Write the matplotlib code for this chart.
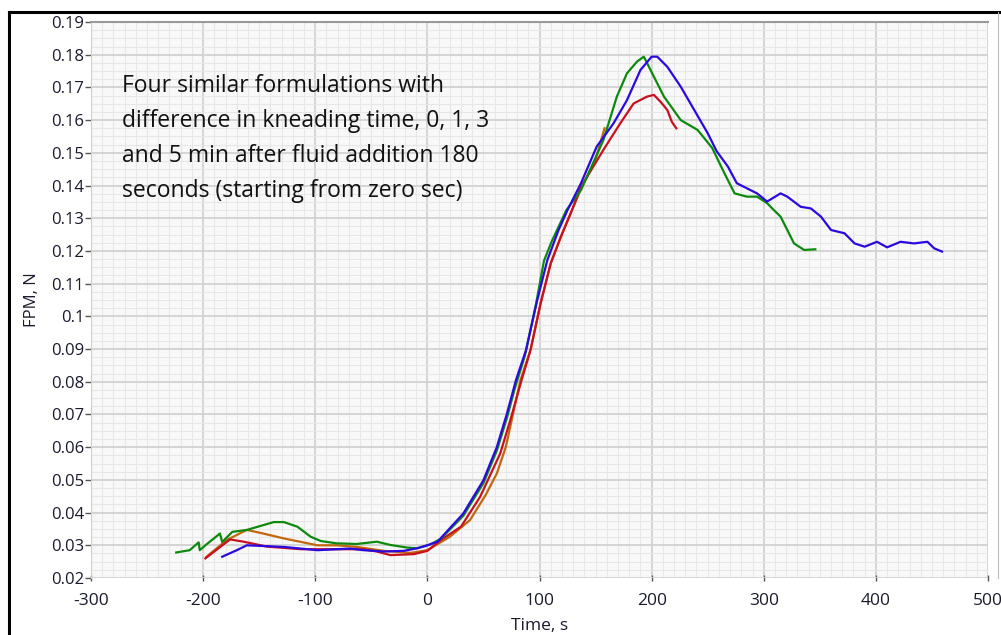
import matplotlib
matplotlib.use("Agg")
import matplotlib.pyplot as plt
from matplotlib.ticker import MultipleLocator, FuncFormatter
from matplotlib.lines import Line2D

# kneading time series
green_t = [-224, -212, -204, -203, -198, -185, -183, -174, -161, -149, -137, -128, -116, -104, -95, -81,
           -63, -45, -33, -18, -9, 3, 12, 32, 50, 62, 71, 78, 87, 97, 104, 111, 124, 137, 157, 169,
           178, 187, 193, 196, 202, 211, 226, 241, 254, 265, 274, 285, 294, 303, 309, 315, 321, 327,
           336, 346]
green_v = [0.0278, 0.0285, 0.0309, 0.0285, 0.0300, 0.0336, 0.0310, 0.0341, 0.0347, 0.0359, 0.0371, 0.0371,
           0.0357, 0.0326, 0.0313, 0.0306, 0.0304, 0.0311, 0.0301, 0.0293, 0.0291, 0.0303, 0.0320, 0.0390,
           0.0490, 0.0590, 0.0690, 0.0780, 0.0880, 0.1040, 0.1170, 0.1230, 0.1325, 0.1386, 0.1539, 0.1672,
           0.1743, 0.1779, 0.1794, 0.1774, 0.1733, 0.1672, 0.1600, 0.1570, 0.1515, 0.1437, 0.1376, 0.1366,
           0.1366, 0.1346, 0.1325, 0.1305, 0.1264, 0.1223, 0.1203, 0.1205]

blue_t = [-183, -170, -161, -128, -98, -69, -57, -39, -21, -9, 0, 9, 12, 32, 50, 62, 71, 79, 88, 98, 107,
          117, 125, 137, 151, 166, 178, 190, 200, 205, 214, 226, 238, 250, 258, 268, 276, 294, 303, 315,
          321, 333, 342, 351, 360, 372, 381, 390, 401, 410, 422, 434, 446, 452, 459]
blue_v = [0.0265, 0.0285, 0.0300, 0.0295, 0.0285, 0.0290, 0.0285, 0.0281, 0.0283, 0.0291, 0.0300, 0.0311,
          0.0322, 0.0397, 0.0499, 0.0601, 0.0703, 0.0805, 0.0897, 0.1050, 0.1172, 0.1264, 0.1325, 0.1407,
          0.1519, 0.1590, 0.1661, 0.1753, 0.1794, 0.1794, 0.1763, 0.1702, 0.1631, 0.1560, 0.1505, 0.1458,
          0.1407, 0.1376, 0.1351, 0.1376, 0.1366, 0.1335, 0.1330, 0.1305, 0.1264, 0.1254, 0.1223, 0.1213,
          0.1228, 0.1211, 0.1228, 0.1223, 0.1228, 0.1208, 0.1198]

red_t = [-198, -176, -164, -143, -113, -84, -57, -45, -33, -12, 0, 12, 30, 47, 65, 74, 84, 92, 101, 110,
         119, 129, 137, 157, 172, 184, 196, 202, 208, 214, 218, 222]
red_v = [0.0260, 0.0318, 0.0311, 0.0296, 0.0288, 0.0288, 0.0288, 0.0281, 0.0270, 0.0273, 0.0283, 0.0316,
         0.0357, 0.0448, 0.0581, 0.0683, 0.0805, 0.0897, 0.1040, 0.1162, 0.1243, 0.1325, 0.1396, 0.1509,
         0.1590, 0.1651, 0.1672, 0.1677, 0.1656, 0.1631, 0.1595, 0.1575]

orange_t = [-197, -179, -161, -149, -128, -98, -81, -63, -39, -15, 0, 20, 38, 52, 62, 70, 83, 92, 101,
            110, 119, 129, 137, 150, 158]
orange_v = [0.0265, 0.0316, 0.0347, 0.0338, 0.0321, 0.0300, 0.0300, 0.0295, 0.0283, 0.0277, 0.0285,
            0.0326, 0.0377, 0.0454, 0.0520, 0.0601, 0.0805, 0.0897, 0.1040, 0.1162, 0.1243, 0.1325,
            0.1390, 0.1480, 0.1575]

note = ("Four similar formulations with\n"
        "difference in kneading time, 0, 1, 3\n"
        "and 5 min after fluid addition 180\n"
        "seconds (starting from zero sec)")

plt.rcParams["font.family"] = ["Open Sans", "DejaVu Sans"]

fig = plt.figure(figsize=(10.01, 6.35), dpi=100)
ax = fig.add_axes([91 / 1001, 1 - 578 / 635, (988 - 91) / 1001, (578 - 22) / 635])
ax.set_facecolor("#f8f8f8")

ax.plot(orange_t, orange_v, color="#c2670c", lw=1.6)
ax.plot(red_t, red_v, color="#c8101f", lw=1.6)
ax.plot(green_t, green_v, color="#0d8a0d", lw=1.6)
ax.plot(blue_t, blue_v, color="#2a0ae0", lw=1.6)

ax.set_xlim(-300, 500)
ax.set_ylim(0.02, 0.19)
ax.xaxis.set_major_locator(MultipleLocator(100))
ax.xaxis.set_minor_locator(MultipleLocator(10))
ax.yaxis.set_major_locator(MultipleLocator(0.01))
ax.yaxis.set_minor_locator(MultipleLocator(0.0025))
ax.yaxis.set_major_formatter(FuncFormatter(lambda v, p: f"{v:.2f}".rstrip("0") if abs(v - 0.1) < 1e-9 else f"{v:.2f}"))
ax.xaxis.set_major_formatter(FuncFormatter(lambda v, p: f"{v:.0f}"))

ax.grid(which="major", color="#d2d2d2", lw=1.3)
ax.grid(which="minor", color="#e7e7e7", lw=0.8)
ax.set_axisbelow(True)

for side in ["right", "bottom"]:
    ax.spines[side].set_visible(False)
ax.spines["left"].set_color("#cfcfcf")
ax.spines["top"].set_color("#9a9a9a")
ax.spines["top"].set_linewidth(1.5)

ax.tick_params(which="minor", length=0)
ax.tick_params(axis="y", which="major", length=4, width=1, color="#555555", pad=1,
               labelsize=12, labelcolor="#1a1a30")
ax.tick_params(axis="x", which="major", length=4, width=1, color="#555555", pad=7,
               labelsize=12.5, labelcolor="#1a1a30")
for t in ax.xaxis.get_major_ticks():
    t.tick1line.set_marker("|")
    t.tick1line.set_markersize(4)

ax.set_ylabel("FPM, N", fontsize=12, color="#1a1a30", labelpad=8)
ax.set_xlabel("Time, s", fontsize=12.5, color="#1a1a30", labelpad=6)

ax.text(122 / 1001, 1 - 74 / 635, note, transform=fig.transFigure, fontsize=16.5,
        va="top", ha="left", linespacing=1.62, color="#111111")

# outer frame of the screenshot
fig.add_artist(Line2D([9 / 1001, 9 / 1001], [0, 1 - 12 / 635], color="black", lw=2.2, transform=fig.transFigure))
fig.add_artist(Line2D([9 / 1001, 1], [1 - 12 / 635, 1 - 12 / 635], color="black", lw=2.2, transform=fig.transFigure))
fig.add_artist(Line2D([998 / 1001, 998 / 1001], [1 - 578 / 635, 1 - 12 / 635], color="#bbbbbb", lw=0.8,
                      transform=fig.transFigure))

fig.savefig("out.png", dpi=100)
